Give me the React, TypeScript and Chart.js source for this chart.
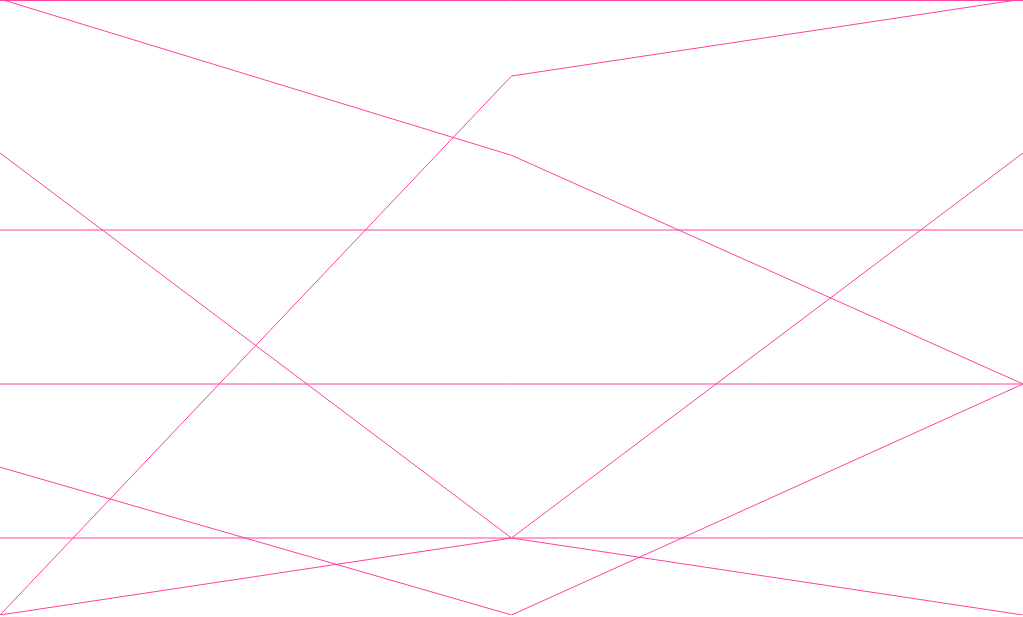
import React, { useEffect, useRef } from "react";
import { Chart, registerables } from "chart.js";

Chart.register(...registerables);

const categories = ["A", "B", "C"];
const seriesTop = [4.98, 4.98, 4.98];
const seriesFall = [5, 2.97, 0];
const seriesValley = [3, -2, 3];
const seriesTwo = [2, 2, 2];
const seriesZero = [0, 0, 0];
const seriesDip = [-1.08, -3, 0];
const seriesRise = [-3, 4, 5];
const seriesLow = [-3, -2, -3];
const seriesMinusTwo = [-2, -2, -2];

const allSeries = [
  seriesTop,
  seriesFall,
  seriesValley,
  seriesTwo,
  seriesZero,
  seriesDip,
  seriesRise,
  seriesLow,
  seriesMinusTwo,
];

const LINE_COLOR = "rgb(255, 64, 160)";

export default function App() {
  const ref = useRef<HTMLCanvasElement | null>(null);
  useEffect(() => {
    document.body.style.margin = "0";
    const canvas = ref.current;
    if (!canvas) return;
    const chart = new Chart(canvas, {
      type: "line",
      data: {
        labels: categories,
        datasets: allSeries.map((s, i) => ({
          label: "s" + i,
          data: s,
          borderColor: LINE_COLOR,
          borderWidth: 1,
          pointRadius: 0,
          tension: 0,
          fill: false,
        })),
      },
      options: {
        animation: false,
        responsive: false,
        maintainAspectRatio: false,
        layout: { padding: 0 },
        plugins: { legend: { display: false }, tooltip: { enabled: false } },
        scales: {
          x: { display: false, offset: false },
          y: { display: false, min: -3, max: 5 },
        },
      },
    });
    return () => chart.destroy();
  }, []);
  return (
    <div style={{ position: "fixed", left: 0, top: -1, width: 1023, height: 617 }}>
      <canvas ref={ref} width={1023} height={616} style={{ display: "block", width: 1023, height: 616 }} />
    </div>
  );
}
